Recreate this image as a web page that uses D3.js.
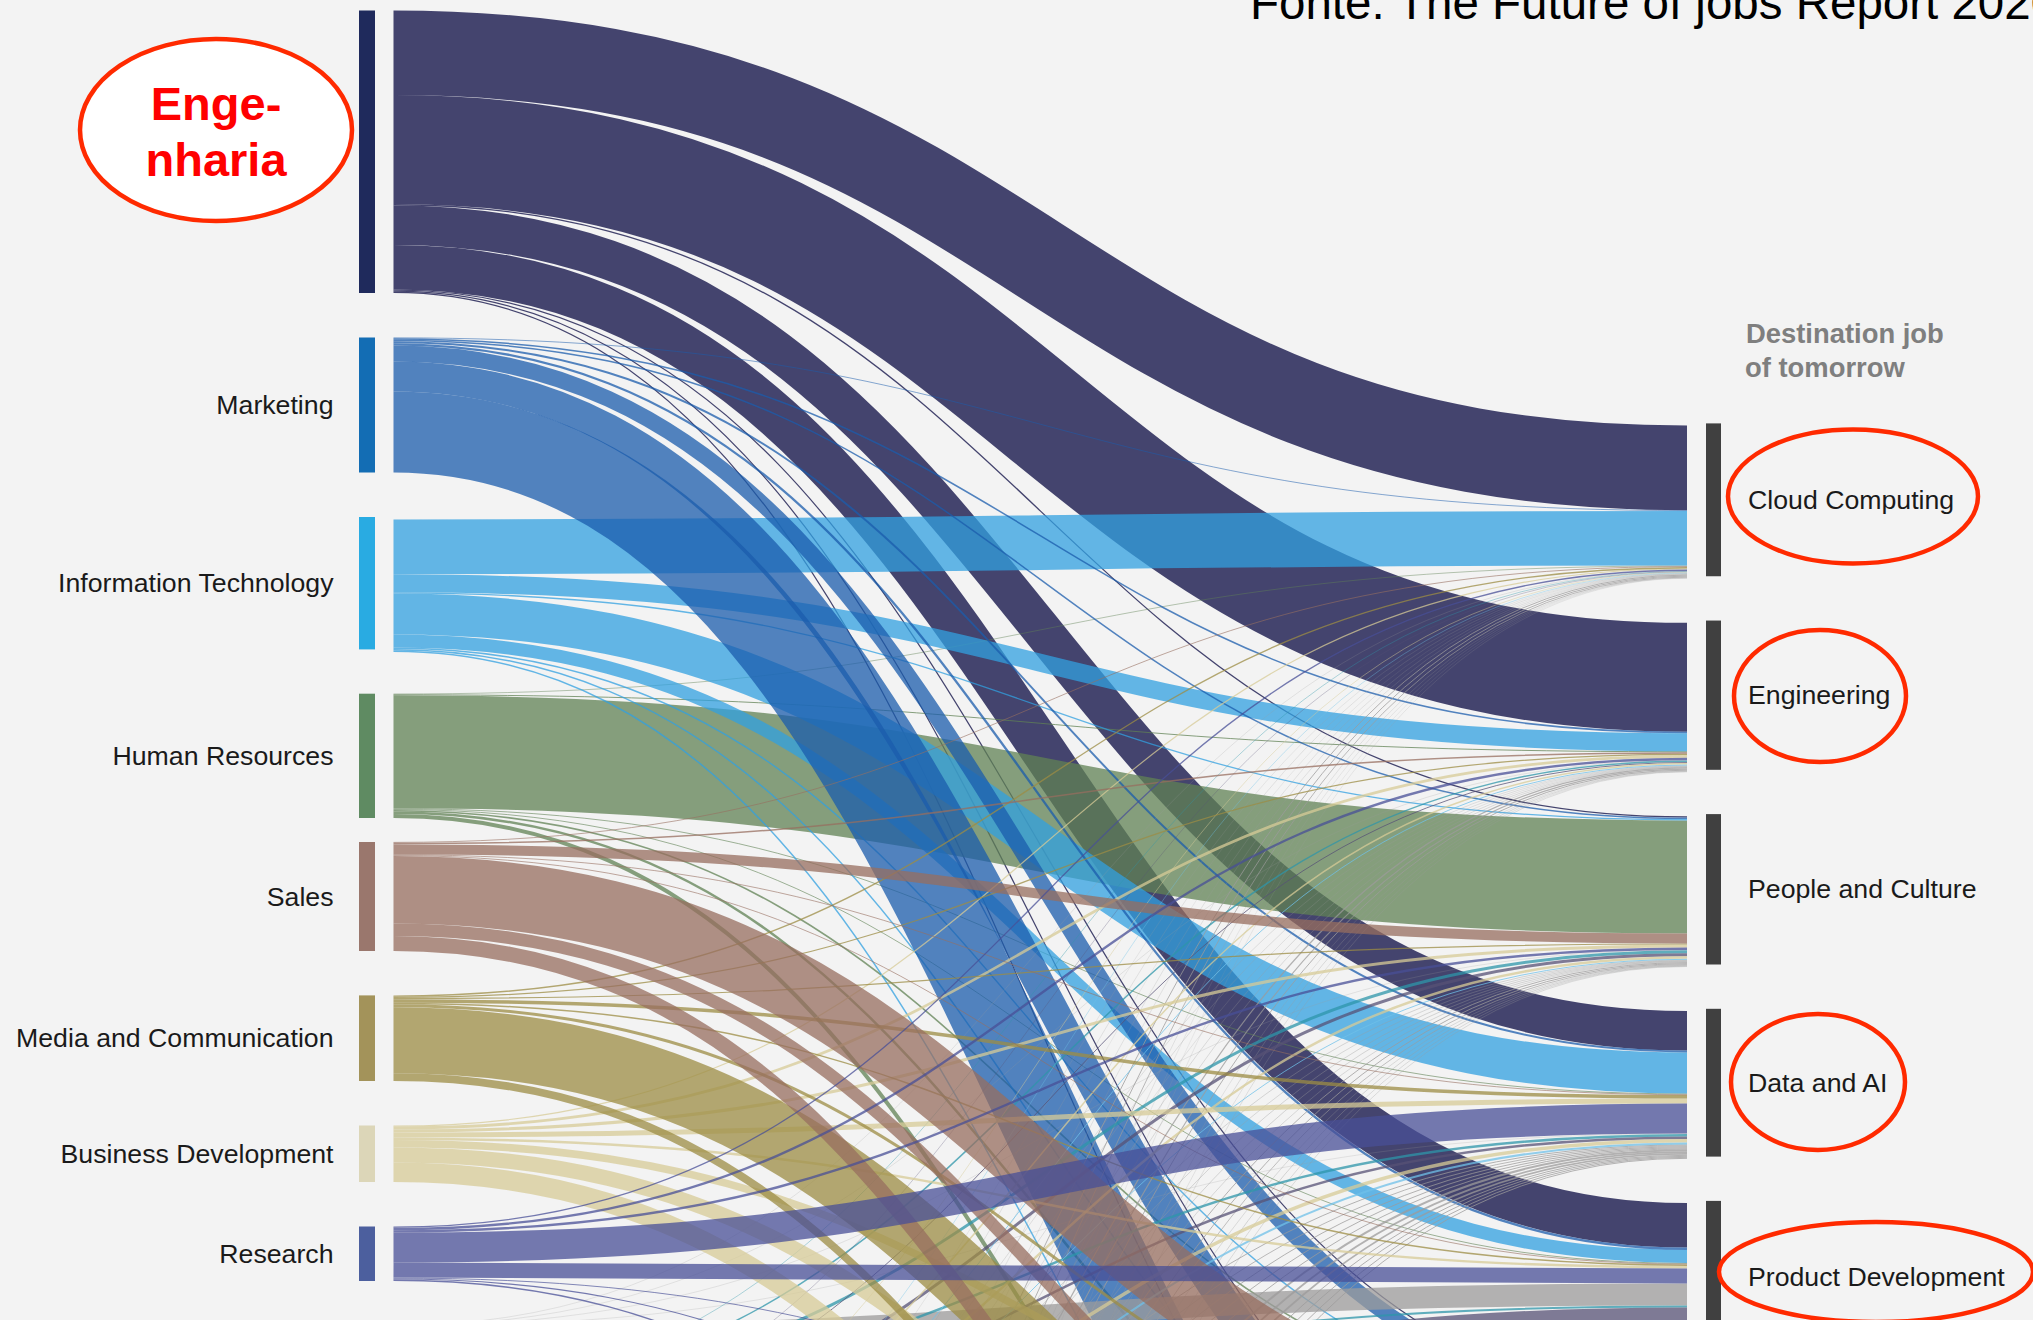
<!DOCTYPE html>
<html><head><meta charset="utf-8">
<script src="https://cdn.jsdelivr.net/npm/d3@7"></script>
<style>
html,body{margin:0;padding:0;background:#f3f3f3;overflow:hidden}
svg{display:block}
text{font-family:"Liberation Sans",Arial,sans-serif}
</style></head><body>
<svg id="c" width="2033" height="1320"></svg>
<script>
// Flows, in units where one destination is about 150.  Columns follow `destinations`.
const destinations = ["Cloud Computing","Engineering","People and Culture","Data and AI","Product Development","Sales","Marketing","Content"];
const shownDestinations = 5;
const sourceLabels = ["","Marketing","Information Technology","Human Resources","Sales","Media and Communication","Business Development","Research"];

const engineering = [84.6,109,1.3,39.5,44.5,1.2,1.2,1.2];
const marketing   = [0.7,1.5,1.5,2,2.3,16,30,81];
const infoTech    = [54.7,18,1.3,41,13,1.4,1.5,1.5];
const humanRes    = [0.6,1,113,0.8,0.8,1.6,2.5,4];
const sales       = [0.8,1.6,10,0.8,0.8,67.5,12.5,15];
const media       = [1.4,1.2,1.2,3.5,1.5,3,66,7.8];
const bizDev      = [1.2,2.8,3,5,2.4,7.5,15.1,19.5];
const research    = [1.3,2.4,2.4,30,15,0.9,1.1,1.4];
// Sources below the cropped edge of the picture: only their flows reach the visible area.
const belowA = [0.3,0.3,0.3,0.3,22,1,1,1];
const belowB = [0.5,1.5,3,2.5,2,1,1,3];
const belowC = [0.4,1,3,2.5,30,2,2,5];
const belowD = [0.6,1.5,2.5,3.5,1.5,1,1,1];
const belowE = [0.5,1,1,2,1,0.5,0.5,0.5];
const grey1  = [0.25,0.35,0.5,1,1.2,2,0.5,6];
const grey2  = [0.3,0.35,0.45,0.9,1.3,3,0.5,5];
const grey3  = [0.2,0.3,0.5,1,1.1,2,0.5,6];
const grey4  = [0.3,0.4,0.5,1,1.4,3,0.5,6];
const grey5  = [0.3,0.4,0.45,1,1.2,2,0.5,5];
const grey6  = [1,1.2,1,2,1.3,3,0.5,7];
const grey7  = [1,1.1,1,1.8,1.2,2,0.5,4];
const grey8  = [0.9,1,0.8,1.7,1.2,3,0.5,5];
const grey9  = [0.3,0.3,0.4,1,1.3,2,0.5,5];
const grey10 = [0.25,0.4,0.5,1,1.1,3,0.5,6];
const grey11 = [0.2,0.3,0.4,1,1.2,2,0.5,5];
const grey12 = [0.25,0.35,0.4,1,1.5,3,0.5,5];

const flows = [engineering,marketing,infoTech,humanRes,sales,media,bizDev,research,
  belowA,belowB,belowC,belowD,belowE,grey1,grey2,grey3,grey4,grey5,grey6,grey7,grey8,grey9,grey10,grey11,grey12];
const greyC="#9c9b9b";
const linkColors=["#090941","#1b5cac","#32a0e0","#608254","#976e5f","#9c8c44","#d7cb97","#484f97",
  greyC,"#2e96a9","#575276","#d7cb97","#6fc0e8",greyC,greyC,greyC,greyC,greyC,greyC,greyC,greyC,greyC,greyC,greyC,greyC];
const barColors=["#1f2a5c","#136db4","#29abe2","#5f8b62","#9a776d","#a3935a","#dcd6b8","#4c5f9e"];
// painting order, back to front
const paintOrder=[0,3,2,1,8,13,14,15,16,17,18,19,20,21,22,23,24,9,10,11,12,6,5,4,7];

const svg=d3.select("#c");
const size=d3.scaleLinear().domain([0,150]).range([0,150]);
const srcX=d3.scaleOrdinal().domain(["barL","barR","link"]).range([359,375,393.5]);
const dstX=d3.scaleOrdinal().domain(["link","barL","barR"]).range([1687,1706,1721]);
const srcGaps=[44.5,44.5,44.3,24,44.4,44.5,44.5,44.5];
const defaultGap=44.4, dstGap=44.3;
const srcLinkShift=[0,0,2.5,0,0,0,0,0];

svg.append("rect").attr("width",2033).attr("height",1320).attr("fill","#f3f3f3");

// layout
let y=10.5;
const srcNodes=flows.map((row,i)=>{const h=size(d3.sum(row));const n={i,y0:y,y1:y+h};y+=h+(srcGaps[i]??defaultGap);return n;});
let yd=423.4;
const dstNodes=destinations.map((d,j)=>{const h=size(d3.sum(flows,r=>r[j]));const n={j,name:d,y0:yd,y1:yd+h};yd+=h+dstGap;return n;});
const dstCursor=dstNodes.map(n=>n.y0+2.2);
const links=[];
flows.forEach((row,i)=>{let c=srcNodes[i].y0+(srcLinkShift[i]||0);
  row.forEach((v,j)=>{const w=size(v);links.push({i,j,w,sy:c+w/2,ty:dstCursor[j]+w/2});c+=w;dstCursor[j]+=w;});});

const linkGen=d3.linkHorizontal().x(d=>d[0]).y(d=>d[1]);
const order=new Map(paintOrder.map((s,k)=>[s,k]));
svg.append("g").attr("fill","none").selectAll("path").data(links.slice().sort((a,b)=>order.get(a.i)-order.get(b.i))).join("path")
  .attr("d",l=>linkGen({source:[srcX("link"),l.sy],target:[dstX("link"),l.ty]}))
  .attr("stroke",d=>linkColors[d.i]).attr("stroke-width",d=>d.w).attr("stroke-opacity",0.75);

// source bars
svg.append("g").selectAll("rect").data(srcNodes.filter(n=>n.i<barColors.length)).join("rect")
  .attr("x",srcX("barL")).attr("width",srcX("barR")-srcX("barL"))
  .attr("y",d=>d.y0).attr("height",d=>d.y1-d.y0).attr("fill",d=>barColors[d.i]);
// destination bars
svg.append("g").selectAll("rect").data(dstNodes).join("rect")
  .attr("x",dstX("barL")).attr("width",dstX("barR")-dstX("barL"))
  .attr("y",d=>d.y0).attr("height",d=>d.y1-d.y0).attr("fill","#404040");

// labels
svg.append("g").selectAll("text").data(srcNodes.filter(n=>sourceLabels[n.i])).join("text")
  .attr("x",333.5).attr("y",d=>(d.y0+d.y1)/2).attr("dy","0.34em").attr("text-anchor","end")
  .attr("font-size",26.7).attr("fill","#1a1a1a").text(d=>sourceLabels[d.i]);
svg.append("g").selectAll("text").data(dstNodes.slice(0,shownDestinations)).join("text")
  .attr("x",1748).attr("y",d=>(d.y0+d.y1)/2).attr("dy","0.34em")
  .attr("font-size",26.7).attr("fill","#1a1a1a").text(d=>d.name);
const hdr=svg.append("g").attr("font-size",27.4).attr("font-weight","bold").attr("fill","#7f7f7f");
hdr.append("text").attr("x",1746).attr("y",343).text("Destination job");
hdr.append("text").attr("x",1745).attr("y",377).text("of tomorrow");

svg.append("text").attr("x",1250).attr("y",19).attr("font-size",47.5).attr("fill","#000").text("Fonte: The Future of jobs Report 2020");

// annotation ellipses
const ellipses=[[216,130,136,91,"#ffffff"],[1853,496.5,125,67,"none"],[1820,696,86,66,"none"],[1818,1082,87,68,"none"],[1876,1272,157,50,"none"]];
svg.append("g").selectAll("ellipse").data(ellipses).join("ellipse")
  .attr("cx",d=>d[0]).attr("cy",d=>d[1]).attr("rx",d=>d[2]).attr("ry",d=>d[3])
  .attr("fill",d=>d[4]).attr("stroke","#ff2a00").attr("stroke-width",4.5);
const eng=svg.append("g").attr("font-size",47).attr("font-weight","bold").attr("fill","#ff0000").attr("text-anchor","middle");
eng.append("text").attr("x",216).attr("y",120).text("Enge-");
eng.append("text").attr("x",216).attr("y",176).text("nharia");
</script>
</body></html>
